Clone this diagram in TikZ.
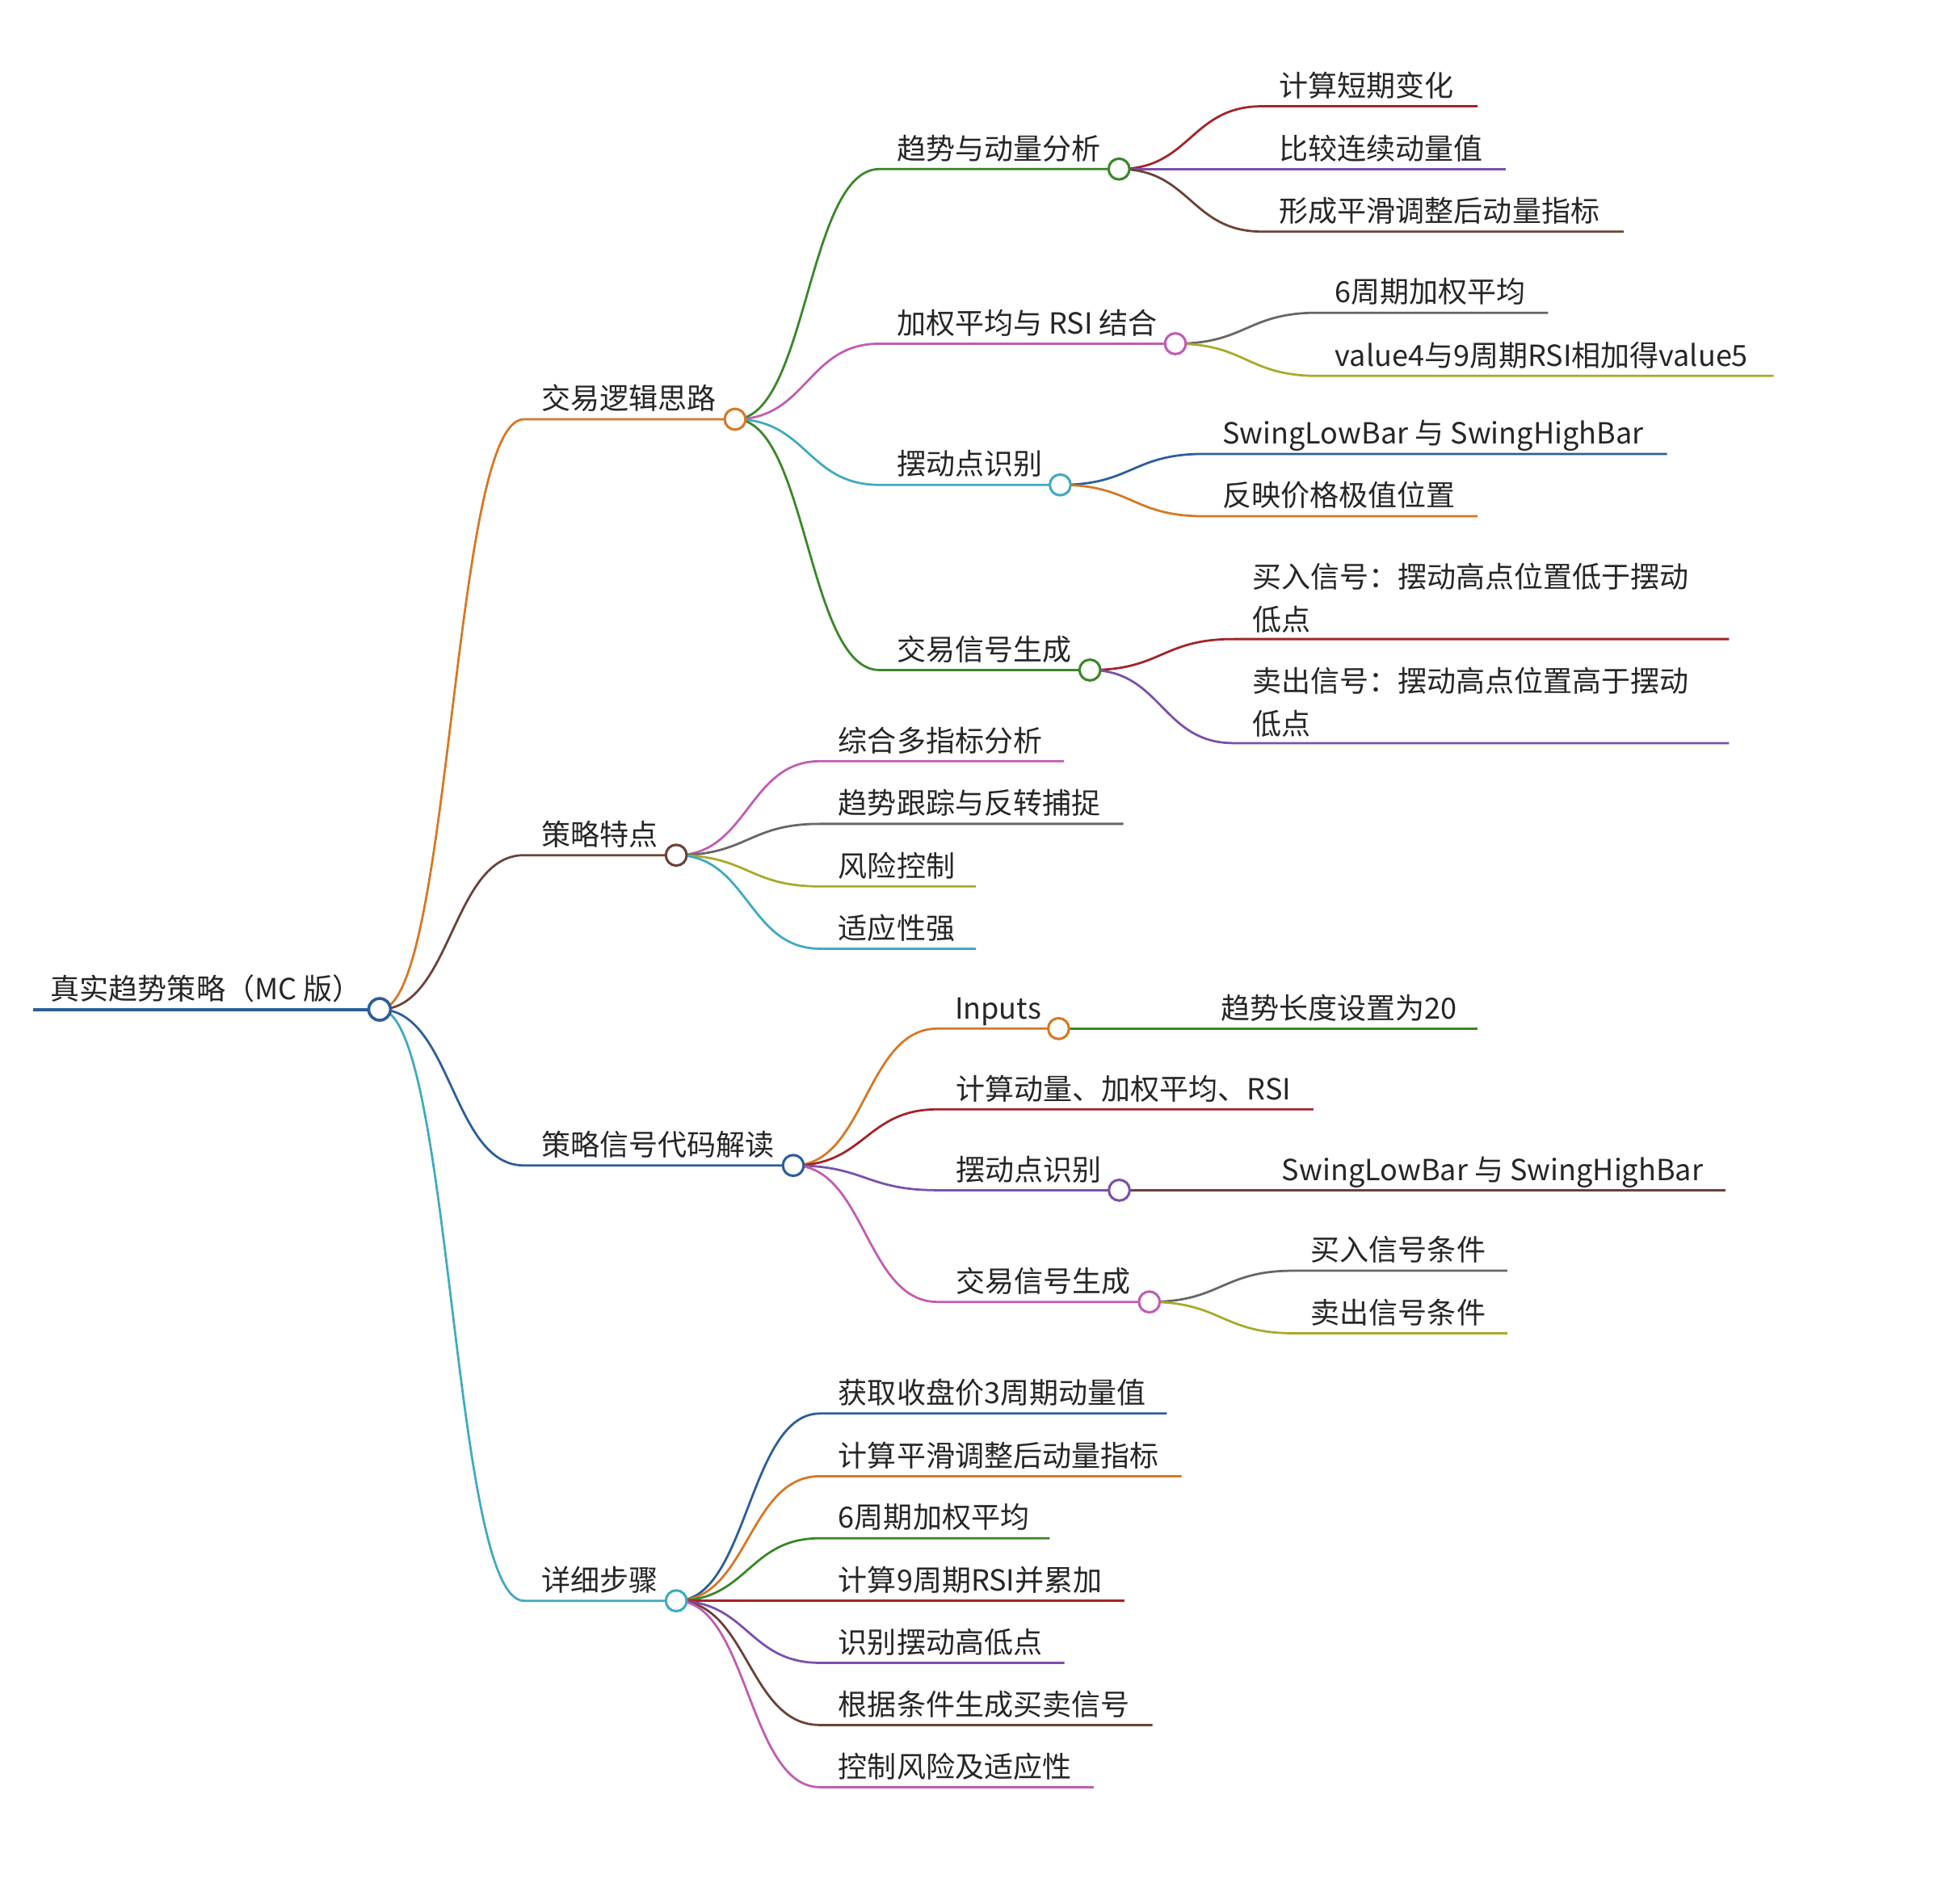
\documentclass[tikz,border=0pt]{standalone}
\usepackage{fontspec}
\newfontfamily\cjk{Noto Sans CJK SC}
\usetikzlibrary{calc}
\definecolor{mBlue}{HTML}{2C5E9A}
\definecolor{mOrange}{HTML}{D67824}
\definecolor{mGreen}{HTML}{3A8728}
\definecolor{mRed}{HTML}{A32428}
\definecolor{mPurple}{HTML}{7A50AC}
\definecolor{mBrown}{HTML}{6B4237}
\definecolor{mPink}{HTML}{C25CB2}
\definecolor{mGray}{HTML}{666666}
\definecolor{mOlive}{HTML}{A8AA2A}
\definecolor{mTeal}{HTML}{40AAC0}
\tikzset{
  txt/.style={anchor=base west, inner sep=0pt, outer sep=0pt, text=black!85,
    font=\cjk\fontsize{11.75}{17.3}\selectfont, align=left},
  mmdot/.style={circle, draw=#1, fill=white, line width=1pt, minimum size=8.4pt, inner sep=0pt},
  mmlnk/.style={draw=#1, line width=0.9pt},
}
\newcommand\mmlink[4]{\draw[mmlnk=#1] let \p1=(#2), \p2=(#3) in (\p1) .. controls ({(\x1+\x2)/2},\y1) and ({(\x1+\x2)/2},\y2) .. (\p2) -- (#4);}
\begin{document}
\begin{tikzpicture}[x=0.5pt,y=-0.5pt]
\fill[white] (0,0) rectangle (1568,1536.7);
\useasboundingbox (0,0) rectangle (1568,1536.7);
% ---------- coordinates ----------
\coordinate (R-s) at (27,815);     \coordinate (R-c) at (306.5,815);
\coordinate (A-s) at (423,338.5);  \coordinate (A-c) at (593.5,338.5);
\coordinate (B-s) at (423,690.5);  \coordinate (B-c) at (546,690.5);
\coordinate (C-s) at (423,941);    \coordinate (C-c) at (640.5,941);
\coordinate (D-s) at (423,1292.5); \coordinate (D-c) at (546,1292.5);
% under A
\coordinate (A1-s) at (710,136.5); \coordinate (A1-c) at (903.5,136.5);
\coordinate (A2-s) at (710,277.5); \coordinate (A2-c) at (949,277.5);
\coordinate (A3-s) at (710,391.5); \coordinate (A3-c) at (856,391.5);
\coordinate (A4-s) at (710,541);   \coordinate (A4-c) at (880,541);
\coordinate (A1a-s) at (1019,85.8);  \coordinate (A1a-e) at (1193,85.8);
\coordinate (A1b-s) at (1019,136.5); \coordinate (A1b-e) at (1216,136.5);
\coordinate (A1c-s) at (1019,187);   \coordinate (A1c-e) at (1311,187);
\coordinate (A2a-s) at (1064,252.5); \coordinate (A2a-e) at (1250,252.5);
\coordinate (A2b-s) at (1064,303.5); \coordinate (A2b-e) at (1432,303.5);
\coordinate (A3a-s) at (972,366.5);  \coordinate (A3a-e) at (1346,366.5);
\coordinate (A3b-s) at (972,416.8);  \coordinate (A3b-e) at (1193,416.8);
\coordinate (A4a-s) at (996,516);    \coordinate (A4a-e) at (1396,516);
\coordinate (A4b-s) at (996,600);    \coordinate (A4b-e) at (1396,600);
% under B
\coordinate (B1-s) at (662,614.6); \coordinate (B1-e) at (859,614.6);
\coordinate (B2-s) at (662,665.2); \coordinate (B2-e) at (907,665.2);
\coordinate (B3-s) at (662,715.7); \coordinate (B3-e) at (788,715.7);
\coordinate (B4-s) at (662,766);   \coordinate (B4-e) at (788,766);
% under C
\coordinate (C1-s) at (757,830.5);  \coordinate (C1-c) at (854.7,830.5);
\coordinate (C1a-s) at (971,830.5); \coordinate (C1a-e) at (1193,830.5);
\coordinate (C2-s) at (757,895.7);  \coordinate (C2-e) at (1060.5,895.7);
\coordinate (C3-s) at (757,961);    \coordinate (C3-c) at (903.7,961);
\coordinate (C3a-s) at (1020,961);  \coordinate (C3a-e) at (1393,961);
\coordinate (C4-s) at (757,1051.2); \coordinate (C4-c) at (928,1051.2);
\coordinate (C4a-s) at (1044.5,1026);   \coordinate (C4a-e) at (1217,1026);
\coordinate (C4b-s) at (1044.5,1076.5); \coordinate (C4b-e) at (1217,1076.5);
% under D
\coordinate (D1-s) at (662,1141.3); \coordinate (D1-e) at (942,1141.3);
\coordinate (D2-s) at (662,1191.9); \coordinate (D2-e) at (954,1191.9);
\coordinate (D3-s) at (662,1242);   \coordinate (D3-e) at (847.5,1242);
\coordinate (D4-s) at (662,1292.5); \coordinate (D4-e) at (908,1292.5);
\coordinate (D5-s) at (662,1342.6); \coordinate (D5-e) at (859.4,1342.6);
\coordinate (D6-s) at (662,1392.8); \coordinate (D6-e) at (930.5,1392.8);
\coordinate (D7-s) at (662,1443);   \coordinate (D7-e) at (883,1443);
% ---------- connectors ----------
\draw[mmlnk=mBlue, line width=1.3pt] (R-s) -- (R-c);
\mmlink{mOrange}{R-c}{A-s}{A-c}
\mmlink{mBrown}{R-c}{B-s}{B-c}
\mmlink{mBlue}{R-c}{C-s}{C-c}
\mmlink{mTeal}{R-c}{D-s}{D-c}
\mmlink{mGreen}{A-c}{A1-s}{A1-c}
\mmlink{mPink}{A-c}{A2-s}{A2-c}
\mmlink{mTeal}{A-c}{A3-s}{A3-c}
\mmlink{mGreen}{A-c}{A4-s}{A4-c}
\mmlink{mRed}{A1-c}{A1a-s}{A1a-e}
\mmlink{mPurple}{A1-c}{A1b-s}{A1b-e}
\mmlink{mBrown}{A1-c}{A1c-s}{A1c-e}
\mmlink{mGray}{A2-c}{A2a-s}{A2a-e}
\mmlink{mOlive}{A2-c}{A2b-s}{A2b-e}
\mmlink{mBlue}{A3-c}{A3a-s}{A3a-e}
\mmlink{mOrange}{A3-c}{A3b-s}{A3b-e}
\mmlink{mRed}{A4-c}{A4a-s}{A4a-e}
\mmlink{mPurple}{A4-c}{A4b-s}{A4b-e}
\mmlink{mPink}{B-c}{B1-s}{B1-e}
\mmlink{mGray}{B-c}{B2-s}{B2-e}
\mmlink{mOlive}{B-c}{B3-s}{B3-e}
\mmlink{mTeal}{B-c}{B4-s}{B4-e}
\mmlink{mOrange}{C-c}{C1-s}{C1-c}
\mmlink{mGreen}{C1-c}{C1a-s}{C1a-e}
\mmlink{mRed}{C-c}{C2-s}{C2-e}
\mmlink{mPurple}{C-c}{C3-s}{C3-c}
\mmlink{mBrown}{C3-c}{C3a-s}{C3a-e}
\mmlink{mPink}{C-c}{C4-s}{C4-c}
\mmlink{mGray}{C4-c}{C4a-s}{C4a-e}
\mmlink{mOlive}{C4-c}{C4b-s}{C4b-e}
\mmlink{mBlue}{D-c}{D1-s}{D1-e}
\mmlink{mOrange}{D-c}{D2-s}{D2-e}
\mmlink{mGreen}{D-c}{D3-s}{D3-e}
\mmlink{mRed}{D-c}{D4-s}{D4-e}
\mmlink{mPurple}{D-c}{D5-s}{D5-e}
\mmlink{mBrown}{D-c}{D6-s}{D6-e}
\mmlink{mPink}{D-c}{D7-s}{D7-e}
% ---------- circles ----------
\node[mmdot=mBlue, line width=1.2pt, minimum size=8.8pt] (R-o) at (R-c) {};
\node[mmdot=mOrange] (A-o) at (A-c) {};
\node[mmdot=mBrown] (B-o) at (B-c) {};
\node[mmdot=mBlue] (C-o) at (C-c) {};
\node[mmdot=mTeal] (D-o) at (D-c) {};
\node[mmdot=mGreen] (A1-o) at (A1-c) {};
\node[mmdot=mPink] (A2-o) at (A2-c) {};
\node[mmdot=mTeal] (A3-o) at (A3-c) {};
\node[mmdot=mGreen] (A4-o) at (A4-c) {};
\node[mmdot=mOrange] (C1-o) at (C1-c) {};
\node[mmdot=mPurple] (C3-o) at (C3-c) {};
\node[mmdot=mPink] (C4-o) at (C4-c) {};
% ---------- texts ----------
\node[txt] (R) at (41,807) {真实趋势策略（MC 版）};
\node[txt] (A) at (437,330.5) {交易逻辑思路};
\node[txt] (B) at (437,682.5) {策略特点};
\node[txt] (C) at (437,933) {策略信号代码解读};
\node[txt] (D) at (437,1284.5) {详细步骤};
\node[txt] (A1) at (724,128.5) {趋势与动量分析};
\node[txt] (A2) at (724,269.5) {加权平均与 RSI 结合};
\node[txt] (A3) at (724,383.5) {摆动点识别};
\node[txt] (A4) at (724,533) {交易信号生成};
\node[txt] (A1a) at (1033,77.8) {计算短期变化};
\node[txt] (A1b) at (1033,128.5) {比较连续动量值};
\node[txt] (A1c) at (1033,179) {形成平滑调整后动量指标};
\node[txt] (A2a) at (1078,244.5) {6周期加权平均};
\node[txt] (A2b) at (1078,295.5) {value4与9周期RSI相加得value5};
\node[txt] (A3a) at (987,358.5) {SwingLowBar 与 SwingHighBar};
\node[txt] (A3b) at (987,408.8) {反映价格极值位置};
\node[txt] (A4a) at (1011,509) {买入信号：摆动高点位置低于摆动\\低点};
\node[txt] (A4b) at (1011,593) {卖出信号：摆动高点位置高于摆动\\低点};
\node[txt] (B1) at (677,606.6) {综合多指标分析};
\node[txt] (B2) at (677,657.2) {趋势跟踪与反转捕捉};
\node[txt] (B3) at (677,707.7) {风险控制};
\node[txt] (B4) at (677,758) {适应性强};
\node[txt] (C1) at (771,822.5) {Inputs};
\node[txt] (C1a) at (986,822.5) {趋势长度设置为20};
\node[txt] (C2) at (772,887.7) {计算动量、加权平均、RSI};
\node[txt] (C3) at (772,953) {摆动点识别};
\node[txt] (C3a) at (1035,953) {SwingLowBar 与 SwingHighBar};
\node[txt] (C4) at (772,1043.2) {交易信号生成};
\node[txt] (C4a) at (1058.5,1018) {买入信号条件};
\node[txt] (C4b) at (1058.5,1068.5) {卖出信号条件};
\node[txt] (D1) at (677,1133.3) {获取收盘价3周期动量值};
\node[txt] (D2) at (677,1183.9) {计算平滑调整后动量指标};
\node[txt] (D3) at (677,1234) {6周期加权平均};
\node[txt] (D4) at (677,1284.5) {计算9周期RSI并累加};
\node[txt] (D5) at (677,1334.6) {识别摆动高低点};
\node[txt] (D6) at (677,1384.8) {根据条件生成买卖信号};
\node[txt] (D7) at (677,1435) {控制风险及适应性};
\end{tikzpicture}
\end{document}
